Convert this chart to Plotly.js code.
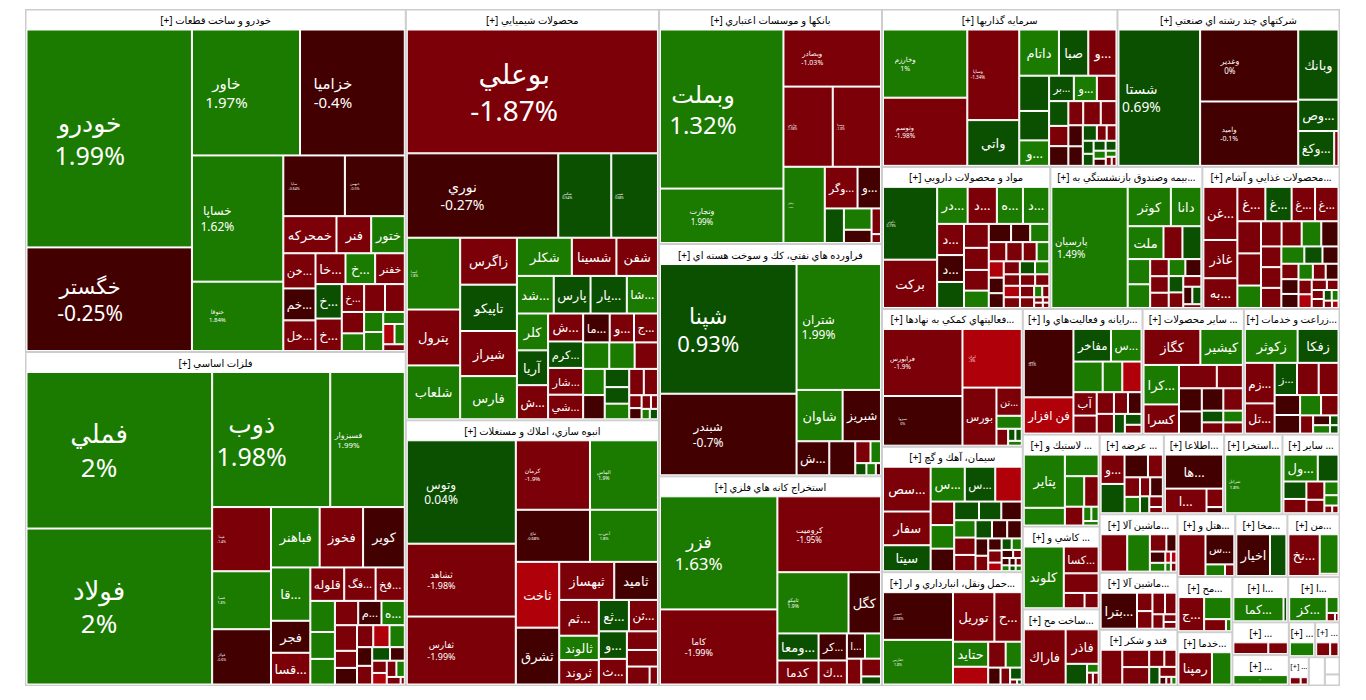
<!DOCTYPE html>
<html>
<head>
<meta charset="utf-8">
<script src="https://cdn.plot.ly/plotly-3.0.1.min.js"></script>
<style>
  html,body{margin:0;padding:0;background:#fff;overflow:hidden;}
  #frame{position:absolute;left:25px;top:9px;width:1315px;height:677px;overflow:hidden;}
  #chart{position:absolute;left:0;top:-19px;width:1315px;height:696px;}
</style>
</head>
<body>
<div id="frame"><div id="chart"></div></div>
<script>
/* ==========================================
   DATA
========================================== */

const khodroNames = ["خودرو","خگستر","خاور","خزاميا","خساپا","خنوقا","ساپا","خبهمن","خمحركه","فنر","ختور","خن...","خم...","خل...","خا...","خ...","خفنر","خ...","خ...","خ..."];
const khodroWeights = [34.7,16.5,13.1,12.7,11.1,6.1,3.6,3.5,1.9,1.24,1.2,1.09,.99,.95,.89,.88,.88,.87,.82,.6,.56,.53,.46,.38,.37,.35,.25,.22,.2,.14];
const khodroChanges = [1.99,-0.25,1.97,-0.4,1.62,1.84,-0.64,-0.5,-1.5,-1.5,1.5,-1.5,-0.5,-1.5,-1.5,1.5,-1.5,0.5,-1.5,-1.5,-1.5,-1.5,-1.5,1.5,1.5,1.5,1.5,-2.5,1.5,-1.5];

const felezatNames = ["فملي","فولاد","ذوب","فسبزوار","فپنتا","فسپا","فولاژ","فباهنر","فخوز","كوير","قا...","فجر","قسا...","قلوله","فگ...","فخ...","","","","","م...","ه..."];
const felezatWeights = [27.7,27.6,15.2,9.6,3.6,3.25,3.1,2.8,2.5,2.4,2.0,1.2,1.19,1.08,1.0,.93,.73,.63,.6,.54,.54,.54,.54,.36,.35,.34,.34,.32,.27,.27,.23,.19,.17,.16,.15,.13,.1,.03];
const felezatChanges = [2,2,1.98,1.99,-1.4,1.8,-0.6,1.5,-1.5,-0.5,1.5,-0.5,-1.5,-1.5,-1.5,-1.5,1.5,1.5,1.5,-1.5,-0.5,1.5,-1.5,-1.5,-0.5,-1.5,-2.5,1.5,-0.5,-1.5,0.5,-0.5,-1.5,-2.5,-1.5,1.5,-1.5,-1.5];

const shimiNames = ["بوعلي","نوري","شكبير","شيمي","كيميا","پترول","شلعاب","زاگرس","تاپيكو","شيراز","فارس","شكلر","شسينا","شفن","شد...","پارس","يار...","شا...","كلر","آريا","ش...","ش...","كرم...","شار...","شي...","ما...","و...","ج..."];
const shimiWeights = [29.2,12,4.2,3.7,3.6,2.8,2.7,2.5,2.47,2.4,2.3,1.97,1.6,1.49,1.3,1.3,1.28,1.1,1.08,1.02,1.0,.92,.87,.88,.81,.72,.66,.65,.65,.63,.58,.53,.49,.42,.38,.36,.36,.35,.15,.13,.12,.09,.08,.08];
const shimiChanges = [-1.87,-0.27,0.54,0.68,1.8,-1.5,1.5,-1.5,0.5,-1.5,1.5,1.5,-1.5,-1.5,1.5,0.5,0.5,1.5,1.5,0.5,-1.5,-1.5,0.5,-1.5,-1.5,-0.5,-1.5,-1.5,1.5,1.5,-1.5,1.5,-0.5,0.5,0.5,1.5,-1.5,-1.5,-1.5,-0.5,-1.5,-1.5,1.5,0.5];

const anbohNames = ["وتوس","ثشاهد","ثفارس","كرمان","الماس","ثباغ","آ.س.پ","ثاخت","ثشرق","ثبهساز","ثاميد","ثم...","ثالوند","ثروند","ثع...","ثن...","و...","ث..."];
const anbohWeights = [10.5,7.4,6.9,4.8,4.4,3.6,3.3,2.66,2.3,1.95,1.55,1.32,.9,.9,.88,.85,.72,.67,.54,.48,.38,.14];
const anbohChanges = [0.04,-1.98,-1.99,-1.9,1.9,-0.68,1.8,-2.5,-0.5,-1.5,-0.5,-1.5,1.5,-1.5,0.5,-1.5,0.5,-1.5,-1.5,-1.5,-1.5,-1.5];

const bankNames = ["وبملت","وتجارت","وبصادر","وپارس","وسينا","وخاور","وگر...","و..."];
const bankWeights = [18.7,6.4,5.3,3.76,3.68,3,1.3,.93,.63,.56,.35,.23,.08];
const bankChanges = [1.32,1.99,-1.03,-1.98,-1.8,1.8,-1.5,-0.5,0.5,1.5,-0.5,-1.5,-1.5];

const naftNames = ["شپنا","شبندر","شتران","شاوان","شبريز","ش..."];
const naftWeights = [17,10.7,10.2,2.27,1.89,1.07,.85,.32,.22,.13,.11,.06];
const naftChanges = [0.93,-0.7,1.99,1.5,-0.5,-0.5,-0.5,-1.5,1.5,0.5,1.5,-0.5];

const madanNames = ["فزر","كاما","كروميت","تامكو","كگل","ومعا...","كدما","كر...","ك...","ا..."];
const madanWeights = [12.5,8.3,7.4,4.1,1.87,1.05,.93,.72,.64,.43,.38,.35,.33,.15];
const madanChanges = [1.63,-1.99,-1.95,1.9,-0.5,0.5,-1.5,-0.5,-1.5,-0.5,1.5,-1.5,-1.5,0.5];

const sarmayeNames = ["وخارزم","وتوسم","وسايا","واتي","داتام","صبا","و...","","","و...","بر...","و..."];
const sarmayeWeights = [5.3,5.3,4.34,2.19,1.69,1.25,1.2,.97,.81,.7,.58,.54,.46,.44,.36,.35,.33,.39,.35,.28,.26,.2,.14,.14,.13,.12,.11,.1,.09,.08,.06,.05,.04];
const sarmayeChanges = [1,-1.98,-1.34,0.5,1.5,0.5,-1.5,0.5,0.5,1.5,0.5,1.5,-1.5,0.5,-1.5,-0.5,-1.5,-1.5,-1.5,-0.5,-0.5,0.5,-1.5,-1.5,0.5,0.5,0.5,0.5,1.5,-0.5,1.5,-1.5,-1.5];

const chandNames = ["شستا","وغدير","واميد","وبانك","وص...","وكغ..."];
const chandWeights = [10.4,6.6,5.9,2.64,1.18,1.17,.14];
const chandChanges = [0.69,0,-0.1,0.5,0.5,0.5,-1.5];

const darouNames = ["دكوثر","بركت","در...","د...","ه...","د...","د...","د..."];
const darouWeights = [3.39,2.25,.97,.93,.83,.84,.72,.62,.6,.51,.47,.44,.37,.35,.3,.3,.29,.27,.23,.21,.21,.2,.19,.18,.17,.16,.16,.16,.15,.15,.14,.14,.13,.08,.07,.04,.04,.03,.03];
const darouChanges = [0.79,-1.5,1.5,-1.5,1.5,1.5,-1.5,-0.5,0.5,-1.5,-1.5,-1.5,1.5,-0.5,-0.5,1.5,-1.5,-1.5,-1.5,1.5,-2.5,-0.5,-0.5,-1.5,0.5,1.5,-1.5,-2.5,-1.5,-1.5,-1.5,-1.5,-1.5,1.5,-1.5,-1.5,-1.5,-1.5,-1.5];

const bimeNames = ["پارسيان","كوثر","دانا","ملت"];
const bimeWeights = [8.16,1.5,1.06,1.04,.55,.55,.5,.47,.28,.27,.25,.25,.24,.21,.2,.17,.14,.14,.06];
const bimeChanges = [1.49,1.5,1.5,1.5,-1.5,0.5,1.5,1.5,-1.5,-1.5,-1.5,1.5,-0.5,0.5,-1.5,-1.5,-0.5,0.5,-1.5];

const ghazaNames = ["غن...","غاذر","به...","غ...","غ...","غ...","غ..."];
const ghazaWeights = [1.5,1.08,.84,.8,.75,.67,.67,.63,.63,.44,.43,.42,.41,.36,.35,.35,.34,.33,.26,.23,.22,.21,.2,.19,.17,.17,.16,.15,.13,.1,.09,.09,.07,.06,.05,.04];
const ghazaChanges = [-1.5,-1.5,-1.5,-1.5,0.5,-1.5,-1.5,-1.5,-1.5,1.5,-1.5,-1.5,1.5,-0.5,-1.5,-1.5,-1.5,1.5,0.5,-0.5,-1.5,-0.5,-0.5,1.5,-1.5,-0.5,-1.5,-2.5,-1.5,-1.5,-1.5,-1.5,0.5,1.5,-1.5,-2.5];

const komakiNames = ["فرابورس","سبزوا","ايران","بورس","تن..."];
const komakiWeights = [4.86,3.6,3.17,1.8,.65,.3,.18,.08,.07,.06];
const komakiChanges = [-1.9,0,-3,-1.5,-1.5,1.5,-1.5,0.5,0.5,1.5];

const simanNames = ["سص...","سفار","سيتا","س...","س..."];
const simanWeights = [1.85,1.39,1.07,1.03,.92,.8,.48,.48,.46,.4,.36,.33,.32,.32,.3,.26,.24,.23,.19,.17,.14,.14,.1,.1,.1,.08,.06,.05,.04,.04,.04,.03,.03];
const simanChanges = [-1.5,-1.5,0.5,1.5,0.5,-2.5,-1.5,1.5,-0.5,0.5,0.5,-0.5,1.5,-1.5,-1.5,0.5,-0.5,-0.5,-0.5,-1.5,-0.5,-1.5,-2.5,0.5,1.5,-0.5,-1.5,-0.5,1.5,-0.5,-1.5,0.5,1.5];

const hamlNames = ["حسير","حفارس","توريل","ح...","حتايد"];
const hamlWeights = [2.88,2.7,1.77,1.17,.76,.54,.39,.36,.18,.14,.12,.03,.02];
const hamlChanges = [-0.68,1.8,-1.5,-1.5,1.5,-2.5,-1.5,1.5,-0.5,-1.5,0.5,-1.5,0.5];

const rayaneNames = ["رانفور","فن افزار","مفاخر","س...","","","","آب"];
const rayaneWeights = [3,1.59,1.08,.88,.79,.53,.52,.48,.37,.33,.3,.27,.26,.19,.16,.13];
const rayaneChanges = [-0.5,-2.5,0.5,1.5,1.5,1.5,-2.5,-1.5,-1.5,-1.5,-1.5,-1.5,-0.5,0.5,0.5,-1.5];

const sayerNames = ["كگاز","كيشير","كرا...","كسرا"];
const sayerWeights = [1.78,1.33,1.22,.9,.77,.53,.46,.44,.42,.38,.22,.21,.2,.19];
const sayerChanges = [-1.5,1.5,1.5,-1.5,-1.5,-1.5,-0.5,-0.5,-0.5,-1.5,0.5,-1.5,1.5,-1.5];

const zeraatNames = ["زكوثر","زفكا","زم...","تل...","ز..."];
const zeraatWeights = [1.51,1.17,1.02,.76,.61,.59,.54,.43,.4,.36,.3,.2,.14,.12,.07,.06];
const zeraatChanges = [1.5,0.5,-1.5,-1.5,0.5,-1.5,-1.5,-0.5,-0.5,1.5,-1.5,-1.5,-0.5,1.5,0.5,0.5];

const lastikNames = ["پتاير"];
const lastikWeights = [1.89,.63,.63,.51,.38,.3,.1,.09,.06];
const lastikChanges = [1.5,1.5,1.5,1.5,-1.5,-1.5,1.5,1.5,1.5];

const kashiNames = ["كلوند","كسا..."];
const kashiWeights = [2.17,.82,.6,.28,.19];
const kashiChanges = [1.5,-1.5,-1.5,-1.5,-1.5];

const saakhtNames = ["فاراك","فاذر"];
const saakhtWeights = [2.03,1,.39,.09,.06,.06];
const saakhtChanges = [-1.5,-1.5,0.5,1.5,-1.5,-1.5];

const arzeNames = ["و..."];
const arzeWeights = [.58,.58,.44,.28,.25,.21,.16,.2,.13,.12,.07];
const arzeChanges = [-1.5,0.5,-0.5,-1.5,-1.5,1.5,-1.5,-0.5,0.5,-1.5,-1.5];

const ettelaNames = ["ها...","ا..."];
const ettelaWeights = [1.74,.9,.27,.09];
const ettelaChanges = [-0.5,-1.5,-1.5,-0.5];

const estekhraNames = ["شرانل"];
const estekhraWeights = [3];
const estekhraChanges = [1.8];

const sayer2Names = ["ول..."];
const sayer2Weights = [.76,.46,.33,.27,.27,.2,.16,.12,.05,.04];
const sayer2Changes = [1.5,0.5,0.5,-1.5,-1.5,-1.5,1.5,1.5,-1.5,-1.5];

const mashin1Weights = [.8,.68,.23,.14,.14,.11,.05,.05,.04,.04];
const mashin1Changes = [-1.5,1.5,-1.5,-0.5,-0.5,1.5,-2.5,-2.5,1.5,-1.5];

const hotelNames = ["","س..."];
const hotelWeights = [1.04,.8,.21,.1];
const hotelChanges = [-1.5,-0.5,1.5,-1.5];

const makhaNames = ["اخيار"];
const makhaWeights = [1.33,.65];
const makhaChanges = [-0.5,0.5];

const manNames = ["نخ..."];
const manWeights = [1.2,.68,.04];
const manChanges = [-1.5,1.5,-1.5];

const mashin2Names = ["بترا..."];
const mashin2Weights = [1.06,.23,.22,.22,.2,.13,.08,.07];
const mashin2Changes = [-0.5,-1.5,-1.5,-1.5,-1.5,-1.5,-1.5,-1.5];

const ghandWeights = [.58,.36,.36,.2,.16,.14,.13,.04,.03,.03];
const ghandChanges = [-1.5,-1.5,-1.5,-1.5,-1.5,0.5,-1.5,-0.5,-1.5,1.5];

const mohNames = ["ج..."];
const mohWeights = [.8,.55,.24,.06];
const mohChanges = [-1.5,1.5,-1.5,1.5];

const kamaNames = ["كما..."];
const kamaWeights = [1.23,.09];
const kamaChanges = [1.5,0.5];

const s34Weights = [.59,.33];
const s34Changes = [-1.5,-1.5];

const s35Names = ["ح..."];
const s35Weights = [.95];
const s35Changes = [1.5];

const khadamaNames = ["رمپنا"];
const khadamaWeights = [1.05,.61];
const khadamaChanges = [-1.5,1.5];

const kazNames = ["كز..."];
const kazWeights = [.92,.19,.07,.03];
const kazChanges = [1.5,1.5,-1.5,-1.5];

const s38Weights = [.16];
const s38Changes = [1.5];

const s39Weights = [.05,.03];
const s39Changes = [-1.5,-1.5];

const s40Weights = [.03,.02];
const s40Changes = [-1.5,-1.5];

const sectorNames = [
  "خودرو و ساخت قطعات","فلزات اساسي","محصولات شيميايي","انبوه سازي، املاك و مستغلات",
  "بانكها و موسسات اعتباري","فراورده هاي نفتي، كك و سوخت هسته اي","استخراج كانه هاي فلزي",
  "سرمايه گذاريها","شركتهاي چند رشته اي صنعتي","مواد و محصولات دارويي",
  "بيمه وصندوق بازنشستگي به...","محصولات غذايي و آشام...","فعاليتهاي كمكي به نهادها...",
  "سيمان، آهك و گچ","حمل ونقل، انبارداري و ار...","رايانه و فعاليت‌هاي وا...",
  "ساير محصولات ...","زراعت و خدمات...","لاستيك و ...","كاشي و ...","ساخت مح...",
  "عرضه ...","اطلاعا...","استخرا...","ساير ...","ماشين آلا...","ماشين آلا...","قند و شكر",
  "هتل و...","مخا...","من...","مح...","خدما...","ا...","ا...","...","...","...","...","..."
];

/* tile areas of the sectors, header included */
const sectorAreas = [129,125.6,103,66.5,51.8,51.3,46.2,36.7,34.6,23.7,21.4,19.3,19.2,17.5,15.8,14.9,12.6,11.9,7,6.3,5.8,5.07,4.76,4.6,4.5,4.5,4.4,4.3,3.6,3.24,3.24,3,2.9,2.5,2.3,1.83,1.7,.91,.84,.56];

/* empty boxes in the bottom right corner */
const blankAreas = [.45,.25,.16];

const sectorStocks = [
  [khodroNames,khodroWeights,khodroChanges,8],[felezatNames,felezatWeights,felezatChanges,7],
  [shimiNames,shimiWeights,shimiChanges,5],[anbohNames,anbohWeights,anbohChanges,7],
  [bankNames,bankWeights,bankChanges,6],[naftNames,naftWeights,naftChanges,3],
  [madanNames,madanWeights,madanChanges,4],[sarmayeNames,sarmayeWeights,sarmayeChanges,3],
  [chandNames,chandWeights,chandChanges,3],[darouNames,darouWeights,darouChanges,1],
  [bimeNames,bimeWeights,bimeChanges,1],[ghazaNames,ghazaWeights,ghazaChanges,0],
  [komakiNames,komakiWeights,komakiChanges,3],[simanNames,simanWeights,simanChanges,0],
  [hamlNames,hamlWeights,hamlChanges,2],[rayaneNames,rayaneWeights,rayaneChanges,1],
  [sayerNames,sayerWeights,sayerChanges,0],[zeraatNames,zeraatWeights,zeraatChanges,0],
  [lastikNames,lastikWeights,lastikChanges,0],[kashiNames,kashiWeights,kashiChanges,0],
  [saakhtNames,saakhtWeights,saakhtChanges,0],[arzeNames,arzeWeights,arzeChanges,0],
  [ettelaNames,ettelaWeights,ettelaChanges,0],[estekhraNames,estekhraWeights,estekhraChanges,1],
  [sayer2Names,sayer2Weights,sayer2Changes,0],[[],mashin1Weights,mashin1Changes,0],
  [mashin2Names,mashin2Weights,mashin2Changes,0],[[],ghandWeights,ghandChanges,0],
  [hotelNames,hotelWeights,hotelChanges,0],[makhaNames,makhaWeights,makhaChanges,0],
  [manNames,manWeights,manChanges,0],[mohNames,mohWeights,mohChanges,0],
  [khadamaNames,khadamaWeights,khadamaChanges,0],[kamaNames,kamaWeights,kamaChanges,0],
  [kazNames,kazWeights,kazChanges,0],[[],s34Weights,s34Changes,0],
  [s35Names,s35Weights,s35Changes,0],[[],s38Weights,s38Changes,0],
  [[],s39Weights,s39Changes,0],[[],s40Weights,s40Changes,0]
];

/* label sizes that differ from the default */
const labelSizes = {
  "خودرو":25,"خگستر":21,"خاور":15,"خزاميا":15,"خساپا":12,"خنوقا":6,"ساپا":3.5,"خبهمن":3.5,
  "فملي":26,"فولاد":26,"ذوب":25,"فسبزوار":8,"فپنتا":3.5,"فسپا":3.5,"فولاژ":3.5,
  "بوعلي":28,"نوري":14,"شكبير":4,"شيمي":4,"كيميا":3.5,
  "وتوس":12,"ثشاهد":9,"ثفارس":9,"كرمان":6,"الماس":5,"ثباغ":4,"آ.س.پ":4,
  "وبملت":24,"وتجارت":8,"وبصادر":7,"وپارس":4,"وسينا":4,"وخاور":3.5,
  "شپنا":22,"شبندر":12,"شتران":12,
  "فزر":17,"كاما":9,"كروميت":8,"تامكو":5,
  "وخارزم":7,"وتوسم":6.5,"وسايا":6,
  "شستا":16,"وغدير":8,"واميد":7,
  "دكوثر":3.5,"پارسيان":11,
  "فرابورس":6.5,"سبزوا":3.5,"ايران":3.5,
  "حسير":3.5,"حفارس":3.5,
  "رانفور":3.5,"شرانل":4.5
};

/* labels that carry a change sit about this many pixels left of the tile centre */
const labelShift = 20;

/* ==========================================
   HELPERS
========================================== */

function changeColor(change){

  if(change >= 1) return "#1b7a00";

  if(change > 0) return "#0b4f00";

  if(change > -1) return "#430000";

  if(change > -2) return "#7c0008";

  return "#b00009";

}

/* trailing no-break spaces push a centred line to the left */
function shiftLeft(line,size){

  return line + "\u00A0".repeat(Math.round(2 * labelShift / (0.26 * size)));

}

/* ==========================================
   BUILD THE HIERARCHY
========================================== */

const ids = ["root"];
const parents = [""];
const labels = [""];
const values = [0];
const texts = [""];
const colors = ["#cccccc"];
const lineColors = ["#cccccc"];
const lineWidths = [0];
const fontSizes = [10];
const fontColors = ["#000000"];

sectorNames.forEach((name,i)=>{

  const stock = sectorStocks[i];
  const sum = stock[1].reduce((a,b)=>a+b,0);
  const sectorId = "s" + i;

  ids.push(sectorId);
  parents.push("root");
  labels.push("[+] " + name);
  values.push(0);
  texts.push("[+] " + name);
  colors.push("#ffffff");
  lineColors.push("#cccccc");
  lineWidths.push(1);
  fontSizes.push(10);
  fontColors.push("#000000");

  stock[1].forEach((weight,j)=>{

    const tileName = stock[0][j] || "";
    const change = stock[2][j];
    const size = labelSizes[tileName] || 13;

    ids.push(sectorId + "-" + j);
    parents.push(sectorId);
    labels.push(tileName);
    values.push(weight * sectorAreas[i] / sum);

    if(j < stock[3]){

      texts.push(shiftLeft(tileName,size) + "<br>" + shiftLeft(change + "%",size));

    }else{

      texts.push(tileName);

    }

    colors.push(changeColor(change));
    lineColors.push("#ffffff");
    lineWidths.push(1);
    fontSizes.push(size);
    fontColors.push("#ffffff");

  });

});

blankAreas.forEach((area,i)=>{

  ids.push("blank" + i);
  parents.push("root");
  labels.push("");
  values.push(area);
  texts.push("");
  colors.push("#ffffff");
  lineColors.push("#cccccc");
  lineWidths.push(1);
  fontSizes.push(10);
  fontColors.push("#000000");

});

/* ==========================================
   DRAW
========================================== */

Plotly.newPlot(

  "chart",

  [
    {
      type:"treemap",
      ids:ids,
      labels:labels,
      parents:parents,
      values:values,
      text:texts,
      textinfo:"text",
      textposition:"middle center",
      branchvalues:"remainder",
      sort:false,
      hoverinfo:"skip",
      pathbar:{visible:false},
      tiling:{packing:"squarify",squarifyratio:1.06,pad:1},
      textfont:{
        family:"'Noto Sans','DejaVu Sans',sans-serif",
        size:fontSizes,
        color:fontColors
      },
      marker:{
        colors:colors,
        depthfade:false,
        pad:{t:20,l:1,r:1,b:1},
        line:{color:lineColors,width:lineWidths}
      }
    }
  ],

  {
    width:1315,
    height:696,
    margin:{l:0,r:0,t:0,b:0},
    paper_bgcolor:"#ffffff"
  },

  {
    displayModeBar:false
  }

);
</script>
</body>
</html>
